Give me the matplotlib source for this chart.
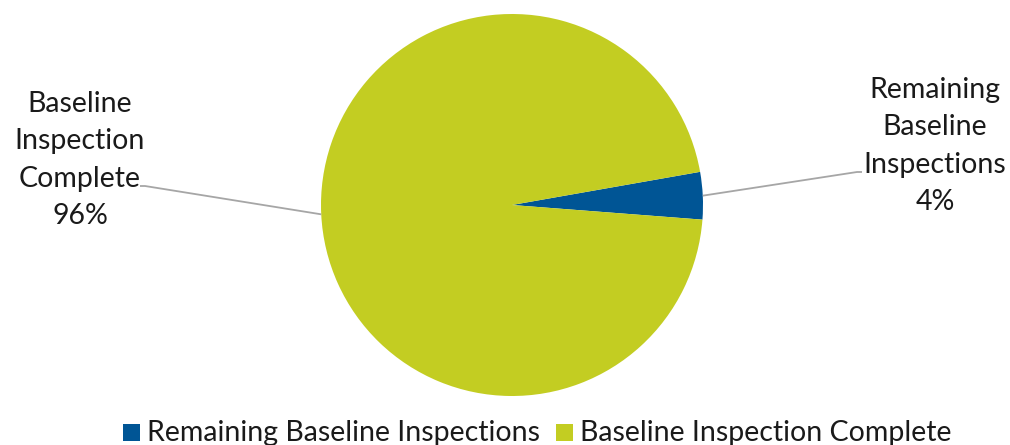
import matplotlib
matplotlib.use("Agg")
import matplotlib.pyplot as plt
import numpy as np
from matplotlib.patches import Rectangle

categories = ["Remaining Baseline Inspections", "Baseline Inspection Complete"]
label_text = ["Remaining\nBaseline\nInspections", "Baseline\nInspection\nComplete"]
values = [4, 96]
colors = ["#005595", "#C3CD22"]

plt.rcParams['font.family'] = ['Lato', 'DejaVu Sans']

fig = plt.figure(figsize=(10.10, 4.45), dpi=100)
ax = fig.add_axes([0, 0, 1, 1])

cx, cy, r = 512, 240, 191
start = 10.0
wedges, _ = ax.pie(values, colors=colors, startangle=start, counterclock=False,
                   center=(cx, cy), radius=r, frame=True,
                   wedgeprops=dict(linewidth=0))
ax.set_xlim(0, 1010)
ax.set_ylim(0, 445)
ax.set_aspect('equal')
ax.axis('off')

total = sum(values)
text_pos = [(935, 299), (80, 285)]
elbow = [(857, 273), (145, 259)]
ends = [(862, 273), (140, 259)]
ang = start
for i, v in enumerate(values):
    span = 360.0 * v / total
    mid = np.deg2rad(ang - span / 2)
    ang -= span
    px, py = cx + r * np.cos(mid), cy + r * np.sin(mid)
    ax.plot([px, elbow[i][0], ends[i][0]], [py, elbow[i][1], ends[i][1]],
            color="#A6A6A6", lw=1.3, solid_capstyle='butt')
    ax.text(text_pos[i][0], text_pos[i][1], f"{label_text[i]}\n{v}%",
            ha='center', va='center', fontsize=20.5, color='#1a1a1a',
            linespacing=1.55)

# legend
lx = [123, 556]
for i, c in enumerate(categories):
    ax.add_patch(Rectangle((lx[i], 4), 17, 17, color=colors[i], lw=0))
    ax.text(lx[i] + 24, 12, c, ha='left', va='center', fontsize=20.5,
            color='#1a1a1a')

fig.savefig("out.png", dpi=100)
